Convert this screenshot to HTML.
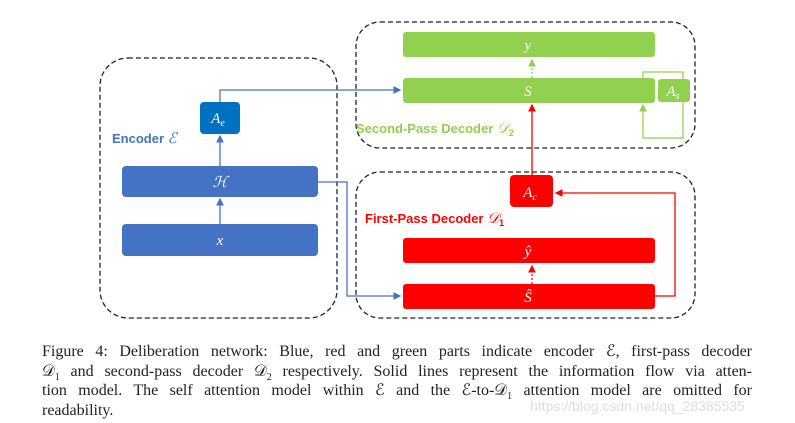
<!DOCTYPE html>
<html><head><meta charset="utf-8"><style>
body{margin:0;background:#fff;width:795px;height:423px;overflow:hidden;font-family:"Liberation Serif",serif}
.cap{position:absolute;left:42px;top:342px;width:710px;font-size:16px;line-height:19.5px;color:#222}
.cap div{text-align:justify;text-align-last:justify;white-space:nowrap}
.cap div.l{text-align-last:left}
.wm{position:absolute;left:530px;top:398px;font-family:"Liberation Sans",sans-serif;font-size:14px;color:#ddd}
sub{font-size:10px;line-height:0}
</style></head><body>
<svg width="795" height="340" style="position:absolute;left:0;top:0" font-family="Liberation Serif,serif">
<defs>
<marker id="b" markerWidth="6" markerHeight="6" refX="5" refY="3" orient="auto"><path d="M0,0 L6,3 L0,6z" fill="#4472c4"/></marker>
<marker id="r" markerWidth="6" markerHeight="6" refX="5" refY="3" orient="auto"><path d="M0,0 L6,3 L0,6z" fill="#f00"/></marker>
<marker id="g" markerWidth="6" markerHeight="6" refX="5" refY="3" orient="auto"><path d="M0,0 L6,3 L0,6z" fill="#92d050"/></marker>
</defs>
<g fill="none" stroke="#222" stroke-width="1.3" stroke-dasharray="5,3">
<rect x="100" y="58" width="237" height="260" rx="28"/>
<rect x="356" y="22" width="339" height="126" rx="24"/>
<rect x="356" y="172" width="339" height="146" rx="24"/>
</g>
<rect x="122" y="166" width="196" height="31" rx="4" fill="#4472c4"/>
<rect x="122" y="224" width="196" height="32" rx="4" fill="#4472c4"/>
<rect x="200" y="102" width="40" height="32" rx="4" fill="#0070c0"/>
<rect x="403" y="32" width="252" height="25" rx="3" fill="#92d050"/>
<rect x="403" y="78" width="252" height="25" rx="3" fill="#92d050"/>
<rect x="658" y="79" width="32" height="23" rx="3" fill="#92d050"/>
<rect x="510" y="175" width="43" height="32" rx="4" fill="#f00"/>
<rect x="403" y="238" width="252" height="25" rx="3" fill="#f00"/>
<rect x="403" y="284" width="252" height="25" rx="3" fill="#f00"/>
<g fill="none" stroke-width="1.3">
<path d="M220,166 V136" stroke="#4472c4" marker-end="url(#b)"/>
<path d="M220,224 V199" stroke="#4472c4" marker-end="url(#b)"/>
<path d="M220,102 V90 H400" stroke="#4472c4" marker-end="url(#b)"/>
<path d="M318,182 H347 V296 H400" stroke="#4472c4" marker-end="url(#b)"/>
<path d="M532,175 V105" stroke="#f00" marker-end="url(#r)"/>
<path d="M655,296 H675 V193 H556" stroke="#f00" marker-end="url(#r)"/>
<path d="M532,284 V266" stroke="#f00" stroke-dasharray="2,2" marker-end="url(#r)"/>
<path d="M532,78 V60" stroke="#92d050" stroke-dasharray="2,2" marker-end="url(#g)"/>
<path d="M643,78 V72 H683 V79 M683,102 V138 H643 V105" stroke="#92d050" marker-end="url(#g)"/>
</g>
<g fill="#fff" font-style="italic" font-size="15" text-anchor="middle">
<text x="220" y="187">ℋ</text><text x="220" y="245">x</text>
<text x="218" y="123">A<tspan font-size="10" dy="3">e</tspan></text>
<text x="528" y="50">y</text><text x="528" y="96">S</text>
<text x="673" y="96">A<tspan font-size="10" dy="3">s</tspan></text>
<text x="530" y="197">A<tspan font-size="10" dy="3">c</tspan></text>
<text x="528" y="256">ŷ</text><text x="528" y="302">Ŝ</text>
</g>
<g font-family="Liberation Sans,sans-serif" font-weight="bold" font-size="13">
<text x="112" y="143" fill="#4472c4">Encoder <tspan font-style="italic" font-family="Liberation Serif,serif" font-weight="normal" font-size="15">ℰ</tspan></text>
<text x="356" y="133" fill="#92d050">Second-Pass Decoder <tspan font-style="italic" font-family="Liberation Serif,serif" font-weight="normal" font-size="15">𝒟</tspan><tspan font-size="9" dy="3">2</tspan></text>
<text x="365" y="223" fill="#f00">First-Pass Decoder <tspan font-style="italic" font-family="Liberation Serif,serif" font-weight="normal" font-size="15">𝒟</tspan><tspan font-size="9" dy="3">1</tspan></text>
</g>
</svg>
<div class="cap">
<div>Figure 4: Deliberation network: Blue, red and green parts indicate encoder ℰ, first-pass decoder</div>
<div>𝒟<sub>1</sub> and second-pass decoder 𝒟<sub>2</sub> respectively. Solid lines represent the information flow via atten-</div>
<div>tion model. The self attention model within ℰ and the ℰ-to-𝒟<sub>1</sub> attention model are omitted for</div>
<div class="l">readability.</div>
</div>
<div class="wm">https://blog.csdn.net/qq_28385535</div>
</body></html>
